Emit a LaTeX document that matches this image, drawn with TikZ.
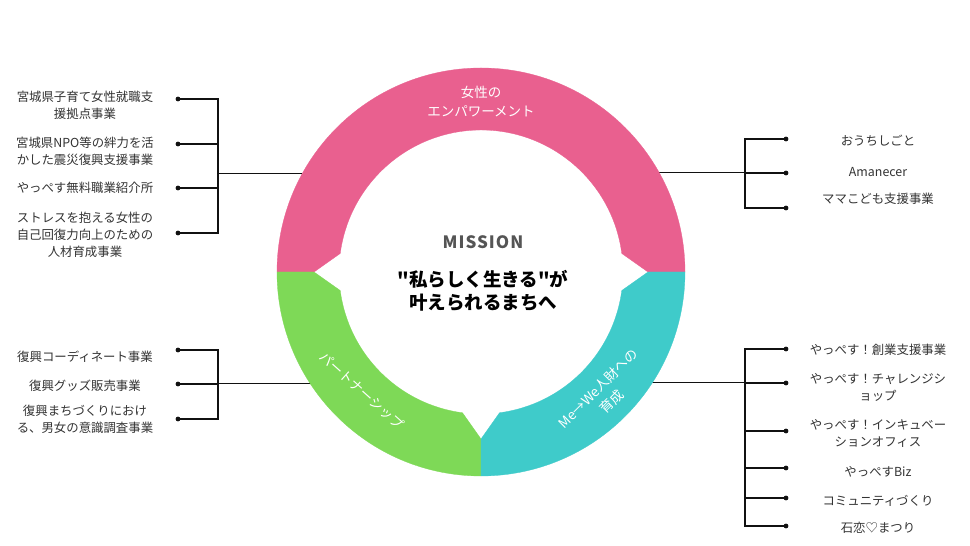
\documentclass[tikz,border=0pt]{standalone}
\usepackage{fontspec}
\setmainfont{Noto Sans CJK JP}
\newfontfamily\jpplain{Noto Sans CJK JP}[Ligatures=TeXOff]
\usetikzlibrary{calc}
\definecolor{pinkc}{HTML}{E9608F}
\definecolor{greenc}{HTML}{7ED957}
\definecolor{cyanc}{HTML}{3FCBCA}
\definecolor{txt}{HTML}{333333}
\definecolor{misc}{HTML}{555555}
\definecolor{linec}{HTML}{111111}
\begin{document}
\begin{tikzpicture}[x=1pt,y=1pt,
  item/.style={font=\fontsize{12.4}{17}\selectfont, text=txt, align=center, inner sep=0pt},
  ringlbl/.style={font=\fontsize{13.5}{19}\selectfont, text=white, align=center, inner sep=0pt},
  brk/.style={line width=1.8pt, draw=linec},
  mainline/.style={line width=1pt, draw=linec},
  dotc/.style={fill=linec}]
\fill[white] (0,0) rectangle (970,546);
\useasboundingbox (0,0) rectangle (970,546);
\coordinate (C) at (481,274);

% ---------- left top group ----------
\node[item] (l1) at (85,441) {宮城県子育て女性就職支\\援拠点事業};
\node[item] (l2) at (85,394.5) {宮城県NPO等の絆力を活\\かした震災復興支援事業};
\node[item] (l3) at (85,358) {やっぺす無料職業紹介所};
\node[item] (l4) at (85,311.5) {ストレスを抱える女性の\\自己回復力向上のための\\人材育成事業};
\coordinate (ld1) at (178,447);
\coordinate (ld2) at (178,402);
\coordinate (ld3) at (178,358);
\coordinate (ld4) at (178,313);
\coordinate (lj) at (218,372);
\coordinate (lr) at (302.1,372);
\draw[brk] (ld1) -- (ld1 -| lj) -- (ld4 -| lj) -- (ld4);
\draw[brk] (ld2) -- (ld2 -| lj);
\draw[brk] (ld3) -- (ld3 -| lj);
\draw[mainline] (lj) -- (lr);

% ---------- right top group ----------
\node[item] (r1) at (878,405) {おうちしごと};
\node[item] (r2) at (878,374) {Amanecer};
\node[item] (r3) at (878,347) {ママこども支援事業};
\coordinate (rd1) at (786,407);
\coordinate (rd2) at (786,373);
\coordinate (rd3) at (786,338);
\coordinate (rj) at (745,373);
\coordinate (rr) at (659.4,373);
\draw[brk] (rd1) -- (rd1 -| rj) -- (rd3 -| rj) -- (rd3);
\draw[brk] (rd2) -- (rd2 -| rj);
\draw[mainline] (rj) -- (rr);

% ---------- left bottom group ----------
\node[item] (b1) at (85,189) {復興コーディネート事業};
\node[item] (b2) at (85,160) {復興グッズ販売事業};
\node[item] (b3) at (85,126.5) {復興まちづくりにおけ\\る、男女の意識調査事業};
\coordinate (bd1) at (178,196);
\coordinate (bd2) at (178,162);
\coordinate (bd3) at (178,127);
\coordinate (bj) at (218,162);
\coordinate (br) at (310.5,162);
\draw[brk] (bd1) -- (bd1 -| bj) -- (bd3 -| bj) -- (bd3);
\draw[brk] (bd2) -- (bd2 -| bj);
\draw[mainline] (bj) -- (br);

% ---------- right bottom group ----------
\node[item] (e1) at (878,196) {やっぺす！創業支援事業};
\node[item] (e2) at (878,159) {やっぺす！チャレンジシ\\ョップ};
\node[item] (e3) at (878,113) {やっぺす！インキュベー\\ションオフィス};
\node[item] (e4) at (878,74) {やっぺすBiz};
\node[item] (e5) at (878,45) {コミュニティづくり};
\node[item] (e6) at (878,18) {石恋♡まつり};
\coordinate (ed1) at (786,197);
\coordinate (ed2) at (786,163);
\coordinate (ed3) at (786,115);
\coordinate (ed4) at (786,78);
\coordinate (ed5) at (786,48);
\coordinate (ed6) at (786,20);
\coordinate (ej) at (745,163);
\coordinate (er) at (652.2,163);
\draw[brk] (ed1) -- (ed1 -| ej) -- (ed6 -| ej) -- (ed6);
\foreach \d in {ed2,ed3,ed4,ed5} \draw[brk] (\d) -- (\d -| ej);
\draw[mainline] (ej) -- (er);

\foreach \d in {ld1,ld2,ld3,ld4,rd1,rd2,rd3,bd1,bd2,bd3,ed1,ed2,ed3,ed4,ed5,ed6}
  \fill[dotc] (\d) circle[radius=2.4pt];

% ---------- ring ----------
\filldraw[fill=pinkc, draw=pinkc, line width=0.3pt]
  ($(C)+(180:204pt)$) arc[start angle=180, end angle=0, radius=204pt]
  -- ($(C)+(0:167pt)$) -- ($(C)+(7.5:142pt)$)
  arc[start angle=7.5, end angle=172.5, radius=142pt]
  -- ($(C)+(180:167pt)$) -- cycle;
\filldraw[fill=greenc, draw=greenc, line width=0.3pt]
  ($(C)+(180:204pt)$) arc[start angle=180, end angle=270, radius=204pt]
  -- ($(C)+(270:167pt)$) -- ($(C)+(262.5:142pt)$)
  arc[start angle=262.5, end angle=187.5, radius=142pt]
  -- ($(C)+(180:167pt)$) -- cycle;
\filldraw[fill=cyanc, draw=cyanc, line width=0.3pt]
  ($(C)+(270:204pt)$) arc[start angle=270, end angle=360, radius=204pt]
  -- ($(C)+(0:167pt)$) -- ($(C)+(352.5:142pt)$)
  arc[start angle=352.5, end angle=277.5, radius=142pt]
  -- ($(C)+(270:167pt)$) -- cycle;

\node[ringlbl] (emp) at (481,444.5) {女性の\\エンパワーメント};
\node[ringlbl, rotate=-42] (part) at (361.5,155.5) {パートナーシップ};
\node[ringlbl, rotate=45] (mewe) at (605,151) {Me→We人財への\\育成};

\node[font=\jpplain\bfseries\fontsize{17}{20}\selectfont\addfontfeatures{LetterSpace=6}, text=misc, inner sep=0pt] (mission) at (483,304) {MISSION};
\node[font=\jpplain\bfseries\fontsize{18.5}{23}\selectfont, align=center, inner sep=0pt] (stmt) at (483,255.5) {"私らしく生きる"が\\叶えられるまちへ};
\end{tikzpicture}
\end{document}
